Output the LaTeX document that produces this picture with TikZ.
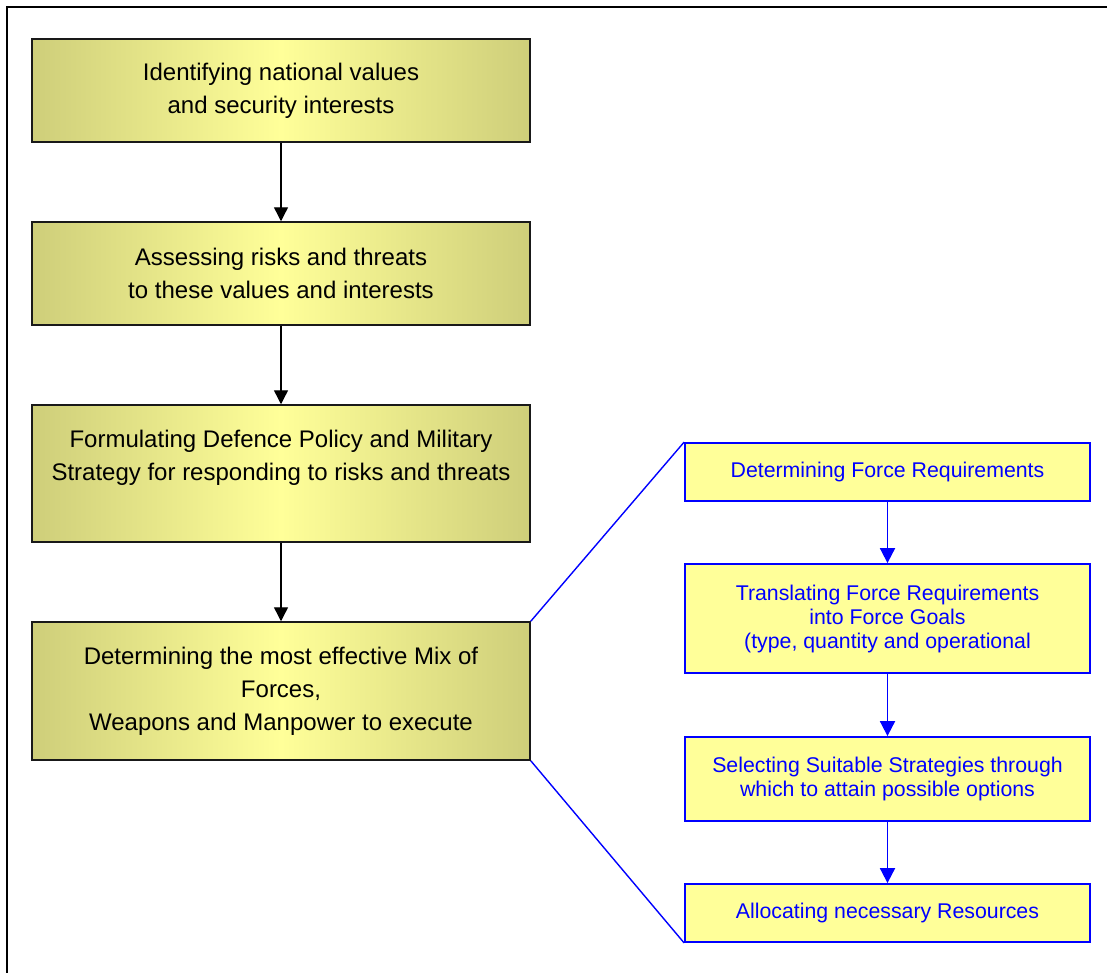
\documentclass[tikz,border=0pt]{standalone}
\usepackage{fontspec}
\setmainfont{Liberation Sans}
\usetikzlibrary{arrows.meta}
\definecolor{boxedge}{RGB}{206,206,122}
\definecolor{boxmid}{RGB}{255,255,153}
\definecolor{subfill}{RGB}{255,255,153}
\begin{document}
\begin{tikzpicture}[x=1pt,y=-1pt,
  lbox/.style={draw=black!90, line width=1.5pt, left color=boxedge, right color=boxedge,
    middle color=boxmid, minimum width=498pt, inner sep=0pt, align=center,
    font=\fontsize{24}{33}\selectfont},
  ltext/.style={align=center, inner sep=0pt, font=\fontsize{24}{33}\selectfont},
  rbox/.style={draw=blue, line width=1.8pt, fill=subfill, text=blue, minimum width=405pt,
    inner sep=0pt, align=center, font=\fontsize{21.3}{24}\selectfont},
  flow/.style={draw=black, line width=1.4pt, -{Triangle[width=14pt,length=14pt]}},
  subflow/.style={draw=blue, line width=1.8pt, -{Triangle[width=15pt,length=15pt]}},
  zoomline/.style={draw=blue, line width=1.4pt}]
\useasboundingbox (0,0) rectangle (1107,972);
\fill[white] (0,0) rectangle (1107,972);
% outer frame (runs off the right and bottom edges)
\draw[line width=2pt] (7,990) -- (7,7) -- (1125,7);

% main process chain
\node[lbox, minimum height=103pt] (b1) at (281,90.5) {Identifying national values\\and security interests};
\node[lbox, minimum height=103pt] (b2) at (281,273.5) {Assessing risks and threats\\to these values and interests};
\node[lbox, minimum height=137pt] (b3) at (281,473.5) {};
\node[ltext] (t3) at (281,457.5) {Formulating Defence Policy and Military\\Strategy for responding to risks and threats};
\node[lbox, minimum height=138pt] (b4) at (281,691) {Determining the most effective Mix of\\Forces,\\ Weapons and Manpower to execute};

\draw[flow] (b1) -- (b2);
\draw[flow] (b2) -- (b3);
\draw[flow] (b3) -- (b4);

% detail of the last step
\node[rbox, minimum height=58pt] (r1) at (887.5,472) {Determining Force Requirements};
\node[rbox, minimum height=109pt] (r2) at (887.5,618.5) {Translating Force Requirements\\into Force Goals\\(type, quantity and operational};
\node[rbox, minimum height=84pt] (r3) at (887.5,779) {Selecting Suitable Strategies through\\which to attain possible options};
\node[rbox, minimum height=58pt] (r4) at (887.5,913) {Allocating necessary Resources};

\draw[subflow] (r1) -- (r2);
\draw[subflow] (r2) -- (r3);
\draw[subflow] (r3) -- (r4);

\draw[zoomline] (b4.north east) -- (r1.north west);
\draw[zoomline] (b4.south east) -- (r4.south west);
\end{tikzpicture}
\end{document}
